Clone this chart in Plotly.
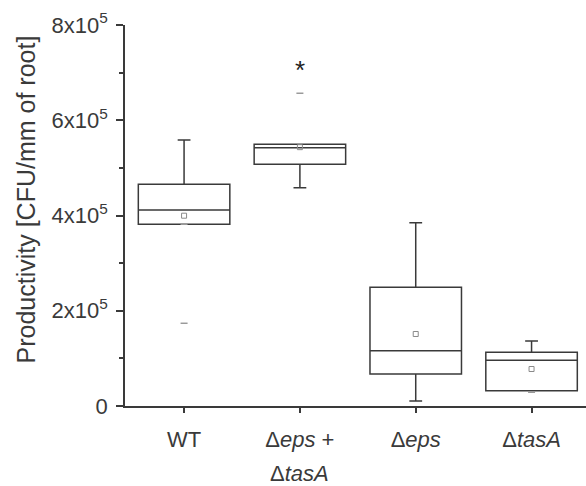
import plotly.graph_objects as go

categories = ["WT", "Δ<i>eps</i> + Δ<i>tasA</i>", "Δ<i>eps</i>", "Δ<i>tasA</i>"]
tick_text = ["WT", "Δ<i>eps</i> +", "Δ<i>eps</i>", "Δ<i>tasA</i>"]
second_line_text = "Δ<i>tasA</i>"
q1 = [381600, 507600, 67200, 32100]
median = [411600, 542400, 116100, 96000]
q3 = [465600, 549600, 249300, 112800]
lower_whisker = [381600, 458400, 10500, 32100]
upper_whisker = [558600, 549600, 384900, 136500]
means = [399600, 543500, 151200, 77700]
extreme_x = [categories[0], categories[0], categories[1], categories[3]]
extreme_y = [173700, 381600, 656700, 28800]
star_y = 705000

ytick_vals = [0, 200000, 400000, 600000, 800000]
ytick_text = ["0", "2x10<sup>5</sup>", "4x10<sup>5</sup>", "6x10<sup>5</sup>", "8x10<sup>5</sup>"]
yminor_vals = [100000, 300000, 500000, 700000]

axis_col = "#3a3a3a"
font = "Arial, Liberation Sans, sans-serif"

fig = go.Figure()
fig.add_trace(go.Box(
    x=categories, q1=q1, median=median, q3=q3,
    lowerfence=lower_whisker, upperfence=upper_whisker,
    width=0.79, whiskerwidth=0.14,
    fillcolor="rgba(0,0,0,0)", line=dict(color=axis_col, width=1.5),
    boxpoints=False, showlegend=False, hoverinfo="skip",
))
fig.add_trace(go.Scatter(
    x=categories, y=means, mode="markers",
    marker=dict(symbol="square-open", size=5, color="#8a8a8a", line=dict(width=1)),
    showlegend=False,
))
fig.add_trace(go.Scatter(
    x=extreme_x, y=extreme_y, mode="markers",
    marker=dict(symbol="line-ew", size=5, color="#9a9a9a", line=dict(width=1.5, color="#9a9a9a")),
    showlegend=False,
))
fig.add_annotation(x=categories[1], y=star_y, text="*", showarrow=False,
                   font=dict(size=26, color="#222", family=font), yanchor="middle")
fig.add_annotation(x=categories[1], yref="paper", y=-0.176, text=second_line_text,
                   showarrow=False, yanchor="middle", xanchor="center",
                   font=dict(size=22, color="#3a3a3a", family=font))
fig.add_annotation(xref="paper", yref="paper", x=-0.2126, y=0.542,
                   text="Productivity [CFU/mm of root]", textangle=-90, showarrow=False,
                   xanchor="center", yanchor="middle",
                   font=dict(size=25, color="#3a3a3a", family=font))

fig.update_layout(
    width=586, height=486,
    margin=dict(l=125, r=0, t=25, b=80),
    paper_bgcolor="white", plot_bgcolor="white",
    font=dict(family=font, size=22, color="#3a3a3a"),
    xaxis=dict(
        type="category", categoryorder="array", categoryarray=categories,
        tickmode="array", tickvals=categories, ticktext=tick_text,
        range=[-0.51, 3.47], showline=True, linecolor=axis_col, linewidth=1.5,
        ticks="outside", ticklen=5, tickwidth=1.5, tickcolor=axis_col,
        ticklabelstandoff=8,
        showgrid=False, zeroline=False, tickfont=dict(size=22), automargin=False,
    ),
    yaxis=dict(
        range=[0, 800000], showline=True, linecolor=axis_col, linewidth=1.5,
        tickmode="array", tickvals=ytick_vals, ticktext=ytick_text,
        ticks="outside", ticklen=7, tickwidth=1.5, tickcolor=axis_col,
        ticklabelstandoff=4,
        minor=dict(tickvals=yminor_vals, ticks="outside", ticklen=4, tickwidth=1.5, tickcolor=axis_col),
        showgrid=False, zeroline=False, tickfont=dict(size=22), automargin=False,
    ),
)
fig.write_html("out.html", config={"displayModeBar": False},
               post_script="document.body.style.margin='0';")
